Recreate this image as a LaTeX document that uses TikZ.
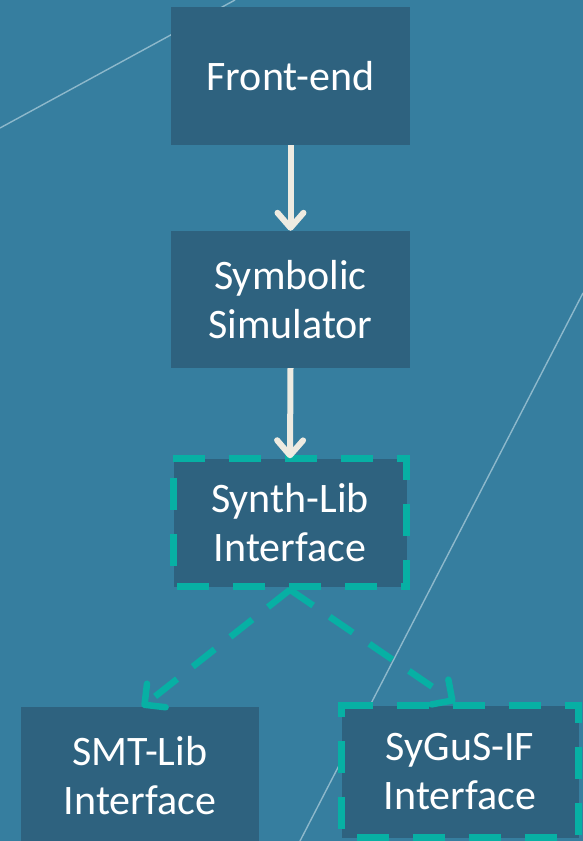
\documentclass[tikz,border=0pt]{standalone}
\usepackage{fontspec}
\setmainfont{Carlito}
\usetikzlibrary{arrows.meta,calc}

\definecolor{bgblue}{HTML}{367E9F}
\definecolor{boxblue}{HTML}{2E627F}
\definecolor{tealdash}{HTML}{07B0A4}
\definecolor{cream}{HTML}{EEEBE1}
\definecolor{faintline}{HTML}{8DB8CB}

\tikzset{
  stage/.style={rectangle, fill=boxblue, text=white, inner sep=0pt,
    align=center, font=\fontsize{42}{49}\selectfont},
  dashframe/.style={draw=tealdash, line width=7pt, line cap=rect,
    dash pattern=on 25pt off 31pt, dash phase=-3pt},
  flow/.style={draw=cream, line width=6pt,
    -{Straight Barb[length=15pt, width=26pt, round]}},
  option/.style={draw=tealdash, line width=6.5pt,
    dash pattern=on 28pt off 20pt,
    -{Straight Barb[length=15pt, width=30pt, round]}},
  bgstroke/.style={draw=faintline, line width=1.4pt}
}

\begin{document}
\begin{tikzpicture}[x=1pt, y=-1pt]
  \useasboundingbox (0,0) rectangle (583,841);
  \clip (0,0) rectangle (583,841);
  \fill[bgblue] (0,0) rectangle (583,841);

  % decorative background strokes
  \draw[bgstroke] (0,128) -- (235,0);
  \draw[bgstroke] (300,841) -- (583,293);

  % pipeline stages
  \node[stage, minimum width=239pt, minimum height=138pt] (fe) at (290.5,76) {Front-end};
  \node[stage, minimum width=239pt, minimum height=137pt] (ss) at (290.5,299.5) {Symbolic\\Simulator};
  \node[stage, minimum width=233pt, minimum height=128pt] (sl) at (290,522.5) {Synth-Lib\\Interface};
  \node[stage, minimum width=238pt, minimum height=138pt] (smt) at (140,776) {SMT-Lib\\Interface};
  \node[stage, minimum width=237pt, minimum height=132pt] (sy) at (460,771.5) {SyGuS-IF\\Interface};

  % dashed frames, traced clockwise from the top-left corner
  \draw[dashframe] (sl.north west) -- (sl.north east) -- (sl.south east) -- (sl.south west) -- cycle;
  \draw[dashframe] (sy.north west) -- (sy.north east) -- (sy.south east) -- (sy.south west) -- cycle;

  % connectors
  \draw[flow] (fe.south) -- (ss.north);
  \draw[flow] (ss.south) -- (sl.north);
  \draw[option] ($(sl.south)+(0,3)$) -- ($(smt.north)+(2,0)$);
  \draw[option] ($(sl.south)+(0,3)$) -- ($(sy.north)+(-5,-3)$);
\end{tikzpicture}
\end{document}
